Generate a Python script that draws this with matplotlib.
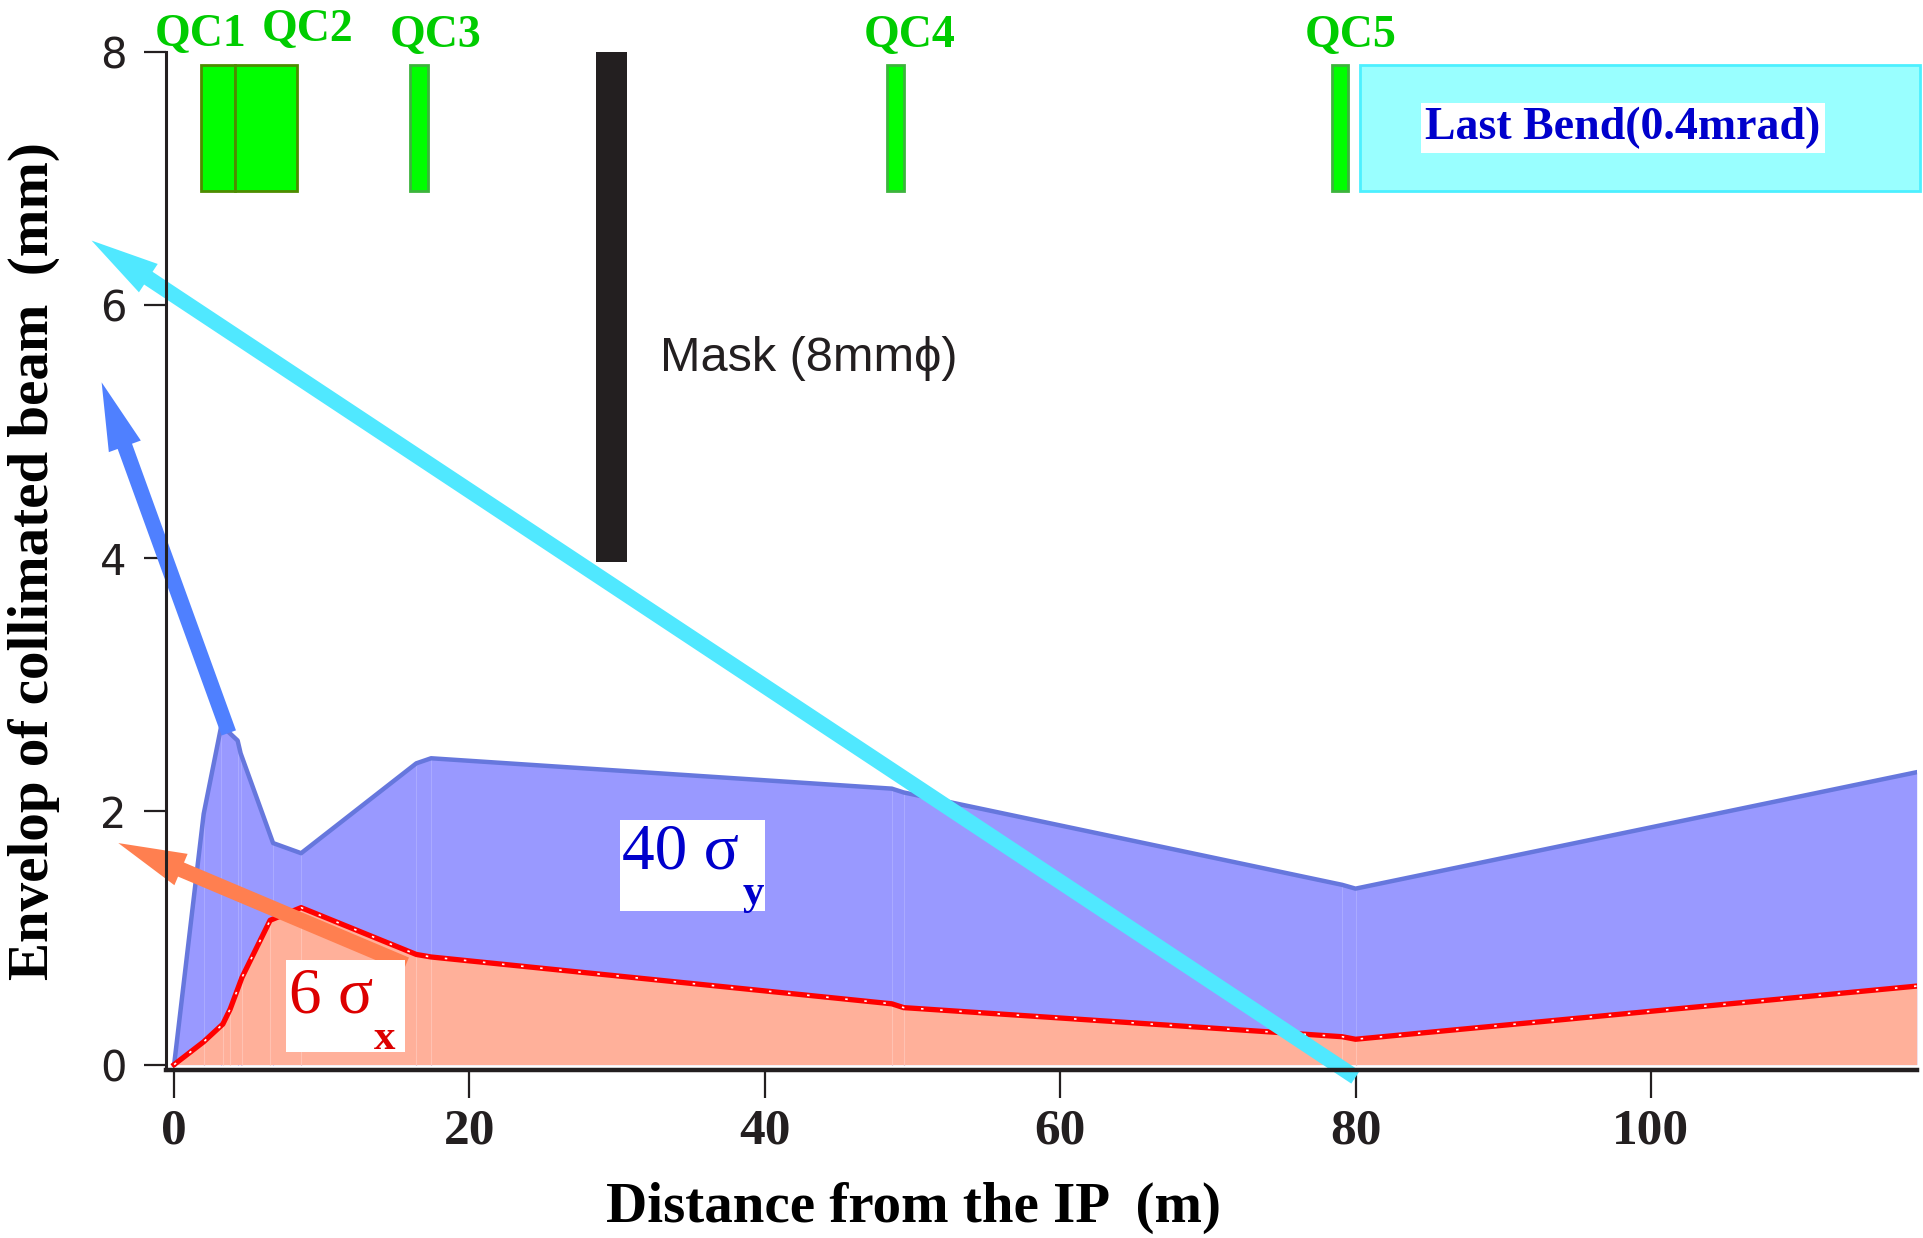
import matplotlib
matplotlib.use("Agg")
import matplotlib.pyplot as plt
from matplotlib.patches import Rectangle

# ---- dados ----
# envelope vertical (40 sigma_y)
x_y = [0.0, 2.0, 3.2, 4.3, 4.5, 6.7, 8.6, 16.4, 17.4, 48.6, 49.4, 79.1, 80.0, 118.0]
sig_y = [0.0, 1.98, 2.68, 2.56, 2.46, 1.75, 1.67, 2.38, 2.42, 2.18, 2.15, 1.42, 1.39, 2.31]

# envelope horizontal (6 sigma_x)
x_x = [0.0, 2.0, 3.3, 3.8, 4.6, 6.5, 8.6, 16.4, 17.4, 48.6, 49.4, 79.1, 80.0, 118.0]
sig_x = [0.0, 0.18, 0.32, 0.44, 0.69, 1.14, 1.24, 0.87, 0.85, 0.48, 0.45, 0.22, 0.20, 0.62]

# quadrupolos (inicio, fim) em metros
qc_names = ['QC1', 'QC2', 'QC3', 'QC4', 'QC5']
qc_start = [1.8, 4.1, 16.0, 48.3, 78.4]
qc_end = [4.1, 8.3, 17.2, 49.4, 79.5]
qc_label_x = [1.8, 9.05, 17.7, 49.8, 79.7]
qc_label_y = [8.05, 8.09, 8.04, 8.04, 8.04]

bend_start, bend_end = 80.3, 118.2
mask_start, mask_end = 28.6, 30.7
mask_bottom = 3.97

x_ticks = [0, 20, 40, 60, 80, 100]
y_ticks = [0, 2, 4, 6, 8]

SERIF = ['Liberation Serif', 'DejaVu Serif']
SANS = ['Liberation Sans', 'DejaVu Sans']

fig = plt.figure(figsize=(19.23, 12.38), dpi=100)
ax = fig.add_axes([0.0861, 0.136, 0.911, 0.822])

# ---- envelopes ----
ax.fill_between(x_y, 0, sig_y, color='#9999FF', lw=0, zorder=1)
ax.vlines(x_y[1:-1], 0, sig_y[1:-1], color='#AAAAFF', lw=0.8, zorder=1.5)
ax.fill_between(x_x, 0, sig_x, color='#FFB09A', lw=0, zorder=2)
ax.vlines(x_x[1:-1], 0, sig_x[1:-1], color='#FFC2B2', lw=0.8, zorder=2.5)
ax.plot(x_y, sig_y, color='#6677DD', lw=3.2, zorder=3)
ax.plot(x_x, sig_x, color='#FF0000', lw=3.8, zorder=4)
ax.plot(x_x, sig_x, color='white', lw=1.2, ls=(0, (1.5, 10)), zorder=4.5)

# ---- magnetos ----
for i in range(len(qc_names)):
    edge = '#4D8C00' if i < 2 else '#3CB43C'
    ax.add_patch(Rectangle((qc_start[i], 6.9), qc_end[i] - qc_start[i], 1.0,
                           facecolor='#00FF00', edgecolor=edge, lw=2, zorder=5))
    ax.text(qc_label_x[i], qc_label_y[i], qc_names[i], color='#00CC00', fontsize=33,
            fontweight='bold', family=SERIF, ha='center', va='baseline', clip_on=False)

ax.add_patch(Rectangle((bend_start, 6.9), bend_end - bend_start, 1.0,
                       facecolor='#99FFFF', edgecolor='#4DF0FF', lw=2, zorder=5, clip_on=False))
ax.text(98.1, 7.40, 'Last Bend(0.4mrad)', color='#0000CC', fontsize=33, fontweight='bold',
        family=SERIF, ha='center', va='center', zorder=6,
        bbox=dict(facecolor='white', edgecolor='none', pad=3))

# ---- mascara ----
ax.add_patch(Rectangle((mask_start, mask_bottom), mask_end - mask_start, 8.0 - mask_bottom,
                       facecolor='#231F20', edgecolor='none', zorder=5))
ax.text(32.9, 5.58, 'Mask (8mm\u03d5)', fontsize=35, family=SANS, color='#231F20',
        ha='left', va='center')

# ---- rotulos 40 sigma_y e 6 sigma_x ----
ax.add_patch(Rectangle((30.2, 1.215), 9.8, 0.715, facecolor='white', edgecolor='none', zorder=6))
ax.text(30.3, 1.55, '40 \u03c3', color='#0000CC', fontsize=47, family=SERIF, zorder=7)
ax.text(38.5, 1.27, 'y', color='#0000CC', fontsize=31, fontweight='bold', family=SERIF, zorder=7)

ax.add_patch(Rectangle((7.56, 0.097), 8.05, 0.726, facecolor='white', edgecolor='none', zorder=6))
ax.text(7.8, 0.41, '6 \u03c3', color='#DD0000', fontsize=47, family=SERIF, zorder=7)
ax.text(13.5, 0.126, 'x', color='#DD0000', fontsize=31, fontweight='bold', family=SERIF, zorder=7)


# ---- setas ----
def seta(tail, tip, color, z):
    ax.annotate('', xy=tip, xytext=tail, annotation_clip=False, zorder=z,
                arrowprops=dict(arrowstyle='simple,head_length=4.9,head_width=2.45,tail_width=1.1',
                                mutation_scale=10, color=color, lw=0, shrinkA=0, shrinkB=0,
                                clip_on=False))


seta((15.7, 0.79), (-3.78, 1.75), '#FF7F50', 5.5)
seta((3.7, 2.62), (-4.91, 5.39), '#4F80FF', 8)
seta((80.0, -0.10), (-5.59, 6.51), '#50E8FF', 9)

# ---- eixos ----
ax.set_xlim(-0.58, 118.05)
ax.set_ylim(-0.04, 8.0)
ax.spines['top'].set_visible(False)
ax.spines['right'].set_visible(False)
ax.spines['left'].set_linewidth(2.2)
ax.spines['bottom'].set_linewidth(3.2)
ax.spines['left'].set_color('#231F20')
ax.spines['bottom'].set_color('#231F20')
ax.spines['left'].set_zorder(10)
ax.spines['bottom'].set_zorder(10)

ax.set_xticks(x_ticks)
ax.set_yticks(y_ticks)
ax.tick_params(axis='x', length=20, width=1.6, pad=8, colors='#231F20')
ax.tick_params(axis='y', length=16, width=1.6, pad=12, colors='#231F20')
for lab in ax.get_xticklabels():
    lab.set_fontfamily(SERIF)
    lab.set_fontweight('bold')
    lab.set_fontsize(37)
for lab in ax.get_yticklabels():
    lab.set_fontfamily(['DejaVu Sans'])
    lab.set_fontsize(30)

ax.set_xlabel('Distance from the IP  (m)', fontsize=41, fontweight='bold', family=SERIF)
ax.xaxis.set_label_coords(0.427, -0.136)
ax.xaxis.label.set_verticalalignment('center')
ax.set_ylabel('Envelop of collimated beam  (mm)', fontsize=41, fontweight='bold', family=SERIF)
ax.yaxis.set_label_coords(-0.075, 0.50)
ax.yaxis.label.set_verticalalignment('center')

fig.savefig('out.png', dpi=100)
